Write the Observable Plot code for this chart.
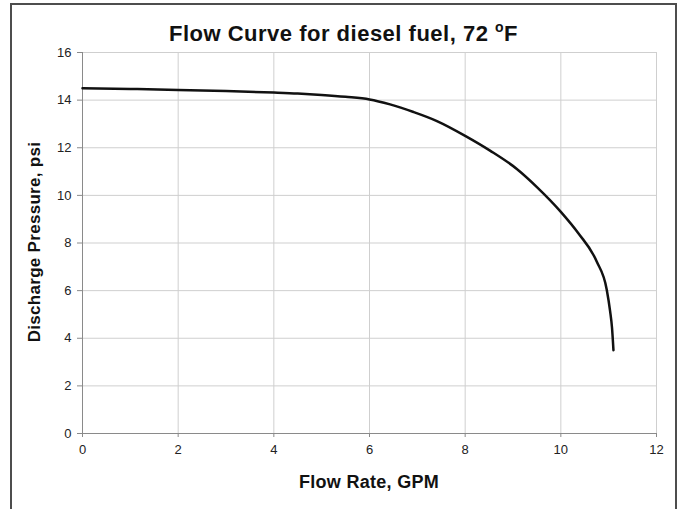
<!DOCTYPE html>
<html><head><meta charset="utf-8">
<script src="https://cdn.jsdelivr.net/npm/d3@7"></script>
<script src="https://cdn.jsdelivr.net/npm/@observablehq/plot@0.6"></script>
<style>
body{margin:0;background:#fff;font-family:"Liberation Sans",Arial,sans-serif;}
#wrap{position:relative;width:681px;height:509px;overflow:hidden;background:#fff}
#chart{position:absolute;left:0;top:0}
#chart svg text, #chart svg g{font-size:13px !important}
#frame{position:absolute;left:10px;top:3px;height:560px;border:2px solid #4d4d4d;box-sizing:border-box;width:667px}
#title{position:absolute;left:11px;width:665px;top:21px;line-height:25px;text-align:center;font-weight:bold;font-size:22px;letter-spacing:0.5px;color:#111}
#title .deg{font-size:14px;position:relative;top:-9px}
#xlabel{position:absolute;left:82px;width:574px;top:472px;line-height:20px;text-align:center;font-weight:bold;font-size:18px;letter-spacing:0.3px;color:#111}
#ylabel{position:absolute;left:35px;top:242px;width:300px;margin-left:-150px;margin-top:-10px;line-height:20px;text-align:center;font-weight:bold;font-size:17px;letter-spacing:0.3px;color:#111;transform:rotate(-90deg)}
</style></head><body>
<div id="wrap">
  <div id="chart"></div>
  <div id="frame"></div>
  <div id="title">Flow Curve for diesel fuel, 72 <span class="deg">o</span>F</div>
  <div id="xlabel">Flow Rate, GPM</div>
  <div id="ylabel">Discharge Pressure, psi</div>
</div>
<script>
const flowGPM = [0, 1, 2, 3, 4, 4.5, 5, 5.5, 6, 6.43, 6.92, 7.41, 8, 8.52, 9.08, 9.5, 10, 10.37, 10.75, 10.96, 11.03, 11.07, 11.1];
const pressurePsi = [14.5, 14.47, 14.43, 14.38, 14.32, 14.28, 14.22, 14.14, 14.03, 13.82, 13.5, 13.12, 12.5, 11.88, 11.11, 10.35, 9.31, 8.4, 7.22, 6.04, 5.14, 4.44, 3.5];
const xTicks = [0, 2, 4, 6, 8, 10, 12];
const yTicks = [0, 2, 4, 6, 8, 10, 12, 14, 16];

const data = flowGPM.map((x, i) => ({x, y: pressurePsi[i]}));

const chart = Plot.plot({
  width: 681,
  height: 509,
  marginLeft: 82,
  marginRight: 25,
  marginTop: 52,
  marginBottom: 76,
  style: {fontFamily: '"Liberation Sans", Arial, sans-serif', fontSize: "13px", color: "#222", background: "transparent"},
  x: {domain: [0, 12]},
  y: {domain: [0, 16]},
  marks: [
    Plot.gridX(xTicks, {stroke: "#cfcfcf", strokeOpacity: 1}),
    Plot.gridY(yTicks, {stroke: "#cfcfcf", strokeOpacity: 1}),
    Plot.ruleX([xTicks[0]], {stroke: "#8a8a8a"}),
    Plot.ruleY([yTicks[0]], {stroke: "#8a8a8a"}),
    Plot.axisX(xTicks, {anchor: "bottom", tickSize: 4, tickPadding: 7, stroke: "#8a8a8a", fill: "#222", label: null}),
    Plot.axisY(yTicks, {anchor: "left", tickSize: 5, tickPadding: 6, stroke: "#8a8a8a", fill: "#222", label: null}),
    Plot.line(data, {x: "x", y: "y", curve: "monotone-x", stroke: "#111", strokeWidth: 2.5})
  ]
});
document.getElementById("chart").appendChild(chart);
</script>
</body></html>
